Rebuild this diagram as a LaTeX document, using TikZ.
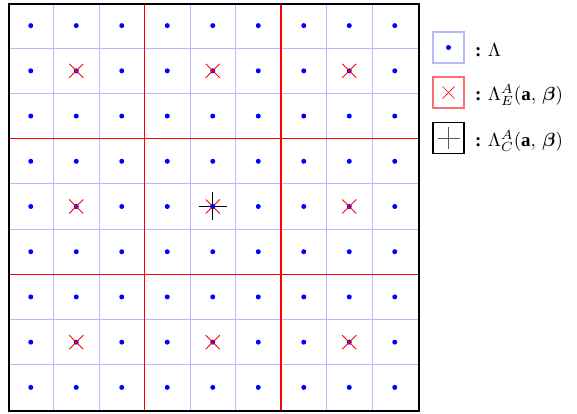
\documentclass[tikz,border=0pt]{standalone}
\usepackage{amsmath,amssymb,graphicx}
\usepackage{fontspec}
\setmainfont{Liberation Serif}
\usetikzlibrary{calc}
\newcommand{\legscale}[1]{\scalebox{1.9}{#1}}
\begin{document}
\begin{tikzpicture}[x=1pt,y=-1pt,
  gridline/.style={draw={rgb,255:red,185;green,185;blue,255},line width=1pt},
  blockline/.style={draw=red,line width=1.2pt},
  latpt/.style={circle,fill=blue,inner sep=0pt,minimum size=5pt},
  xmark/.style={draw=red,line width=0.9pt},
  pmark/.style={draw=black,line width=1.3pt},
  legbox/.style={minimum size=31pt,inner sep=0pt,line width=1.2pt},
  legtext/.style={anchor=base west,inner sep=0pt}]
\useasboundingbox (0,0) rectangle (577,413);
\def\cs{45.5}
% light grid
\foreach \i in {1,2,4,5,7,8}{
  \draw[gridline] (8+\i*\cs,3) -- (8+\i*\cs,410);
  \draw[gridline] (8,3+\i*45.22) -- (418,3+\i*45.22);
}
% block lines
\foreach \i in {3,6}{
  \draw[blockline] (8+\i*\cs,3) -- (8+\i*\cs,410);
  \draw[blockline] (8,3+\i*45.22) -- (418,3+\i*45.22);
}
\node[draw=black,line width=1.8pt,minimum width=410pt,minimum height=407pt,inner sep=0pt,anchor=north west] (frame) at (8,3) {};
% lattice points
\foreach \i in {0,...,8}{
  \foreach \j in {0,...,8}{
    \node[latpt] (p\i\j) at (8+\i*\cs+\cs/2,3+\j*45.22+22.61) {};
  }
}
% red crosses
\foreach \i in {1,4,7}{
  \foreach \j in {1,4,7}{
    \draw[xmark] ($(p\i\j)+(-7,-7)$) -- ($(p\i\j)+(7,7)$);
    \draw[xmark] ($(p\i\j)+(-7,7)$) -- ($(p\i\j)+(7,-7)$);
  }
}
% black plus at center
\draw[pmark] ($(p44)+(-14,0)$) -- ($(p44)+(14,0)$);
\draw[pmark] ($(p44)+(0,-14)$) -- ($(p44)+(0,14)$);
\node[latpt] at (p44) {};
% legend
\node[legbox,draw={rgb,255:red,185;green,185;blue,255}] (l1) at (448.5,47.5) {};
\node[latpt] at (l1) {};
\node[legbox,draw={rgb,255:red,255;green,110;blue,110}] (l2) at (448.5,92.5) {};
\draw[xmark,line width=0.7pt] ($(l2)+(-6,-6)$) -- ($(l2)+(6,6)$);
\draw[xmark,line width=0.7pt] ($(l2)+(-6,6)$) -- ($(l2)+(6,-6)$);
\node[legbox,draw=black,line width=1.6pt] (l3) at (448.5,138) {};
\draw[draw={rgb,255:red,90;green,90;blue,90},line width=1pt] ($(l3)+(-11,0)$) -- ($(l3)+(11,0)$);
\draw[draw={rgb,255:red,90;green,90;blue,90},line width=1pt] ($(l3)+(0,-11)$) -- ($(l3)+(0,11)$);
\node[legtext] (t1) at (475,56) {\legscale{\textbf{:} $\Lambda$}};
\node[legtext] (t2) at (475,100) {\legscale{\textbf{:} $\Lambda_E^A(\mathbf{a},\,\boldsymbol{\beta})$}};
\node[legtext] (t3) at (475,146) {\legscale{\textbf{:} $\Lambda_C^A(\mathbf{a},\,\boldsymbol{\beta})$}};
\end{tikzpicture}
\end{document}
